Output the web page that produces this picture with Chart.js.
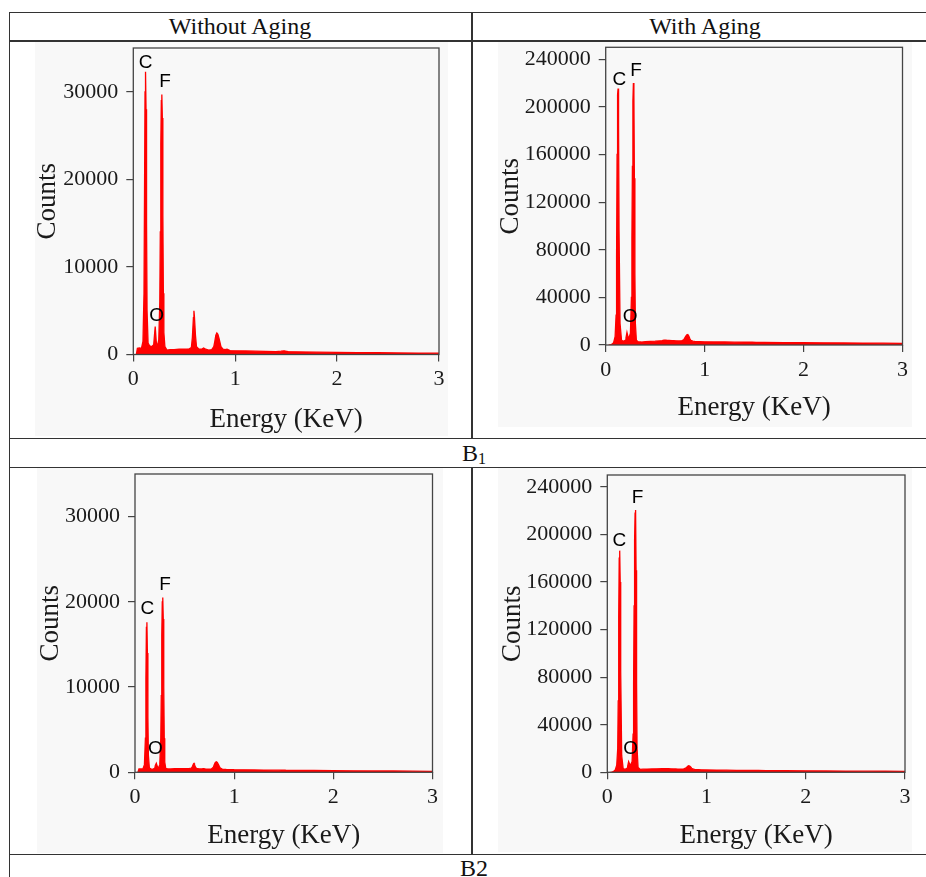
<!DOCTYPE html>
<html><head><meta charset="utf-8">
<script src="https://cdn.jsdelivr.net/npm/chart.js@4.4.1/dist/chart.umd.min.js"></script>
<style>
html,body{margin:0;padding:0;background:#fff;}
body{width:926px;height:877px;position:relative;overflow:hidden;font-family:'Liberation Serif','Times New Roman',serif;color:#111;}
.hl{position:absolute;height:1.5px;background:#333;}
.vl{position:absolute;width:1.5px;background:#333;}
.bg{position:absolute;background:#f8f8f8;}
.txt{position:absolute;font-size:24px;transform:translate(-50%,-50%);white-space:nowrap;line-height:1;}
.txt sub{font-size:16px;vertical-align:-3px;line-height:0;}
canvas{position:absolute;}
</style></head><body>
<div class="bg" style="left:35px;top:42px;width:413px;height:394px"></div>
<div class="bg" style="left:498px;top:42px;width:414px;height:385px"></div>
<div class="bg" style="left:37px;top:468px;width:406px;height:385px"></div>
<div class="bg" style="left:498px;top:468px;width:414px;height:384px"></div>

<div class="hl" style="left:9px;top:11.5px;width:917px"></div>
<div class="hl" style="left:9px;top:40px;width:917px"></div>
<div class="hl" style="left:9px;top:437.5px;width:917px"></div>
<div class="hl" style="left:9px;top:466.5px;width:917px"></div>
<div class="hl" style="left:9px;top:853.5px;width:917px"></div>
<div class="vl" style="left:8.5px;top:11.5px;height:866px"></div>
<div class="vl" style="left:471px;top:11.5px;height:427px"></div>
<div class="vl" style="left:471px;top:466.5px;height:388px"></div>

<div class="txt" style="left:240px;top:26px">Without Aging</div>
<div class="txt" style="left:705px;top:26px">With Aging</div>
<div class="txt" style="left:474px;top:453px">B<sub>1</sub></div>
<div class="txt" style="left:474px;top:868px">B2</div>

<canvas id="c1" width="419" height="416" style="left:32px;top:20px"></canvas>
<canvas id="c2" width="420" height="405" style="left:495px;top:19px"></canvas>
<canvas id="c3" width="410" height="406" style="left:35px;top:446px"></canvas>
<canvas id="c4" width="420" height="405" style="left:497px;top:447px"></canvas>

<script>
const energyKeV = [0.03,0.04,0.06,0.08,0.095,0.105,0.11,0.115,0.12,0.125,0.13,0.135,0.145,0.16,0.18,0.2,0.205,0.215,0.225,0.235,0.25,0.26,0.265,0.27,0.275,0.28,0.285,0.29,0.295,0.3,0.31,0.33,0.36,0.4,0.45,0.5,0.55,0.57,0.58,0.59,0.595,0.6,0.61,0.62,0.64,0.67,0.69,0.71,0.74,0.77,0.79,0.8,0.81,0.82,0.83,0.84,0.85,0.86,0.88,0.9,0.92,0.95,1.0,1.1,1.2,1.3,1.4,1.45,1.48,1.52,1.6,1.8,2.0,2.2,2.4,2.6,2.8,3.0];

const countsB1NoAging = [0,700,750,700,1500,7000,18000,30000,32300,28000,15000,5000,1300,1000,900,1100,1800,3200,1500,800,1700,6000,14000,24000,29000,29700,27000,16000,7000,2500,900,500,550,550,600,600,650,800,2000,4200,5000,4300,2200,900,650,600,750,600,500,550,900,1500,2200,2450,2300,1900,1400,900,600,550,600,450,420,400,380,360,330,380,420,330,300,270,240,220,200,180,160,150];

const countsB1Aging = [0,0,500,2000,7000,25000,75000,160000,210000,215400,185000,95000,18000,4000,3000,4000,6000,10500,7000,6000,10000,40000,90000,150000,205000,220100,210000,140000,60000,18000,4000,2500,2500,2800,3000,3200,3500,3600,3800,4000,4000,4100,4000,3900,3800,3700,3600,3500,3400,3500,4500,6000,7500,8500,8800,7500,5500,4000,3200,3000,2900,2800,2700,2600,2500,2400,2300,2300,2300,2200,2100,2000,1900,1800,1700,1600,1500,1400];

const countsB2NoAging = [0,400,400,400,900,4000,11000,17000,17600,14000,6500,2000,500,400,350,500,800,1050,700,450,900,4000,9000,16000,20000,20500,18000,10000,4000,1200,450,400,400,420,430,440,450,500,700,1000,1050,900,600,450,420,400,420,400,380,400,600,900,1150,1240,1150,950,700,500,380,350,330,320,300,290,280,260,250,250,260,240,230,210,190,170,160,150,130,120];

const countsB2Aging = [0,0,500,2000,6000,20000,60000,130000,180000,186400,160000,85000,14000,3000,2500,3500,5000,8900,7000,6000,9000,32000,75000,140000,195000,218000,220500,170000,75000,20000,4000,2500,2600,2700,2800,2900,3000,3000,3000,3100,3100,3100,3000,3000,2900,2800,2800,2700,2700,2800,3500,4200,5000,5500,5300,4500,3500,2800,2400,2300,2200,2100,2000,1900,1800,1700,1600,1600,1600,1500,1400,1300,1200,1100,1000,950,900,850];

const energyTicks = [0,1,2,3];
const countTicksNoAging = [0,10000,20000,30000];
const countTicksAging = [0,40000,80000,120000,160000,200000,240000];

const peakLabelsB1NoAging = [['C',0.122,33350],['F',0.311,31180],['O',0.23,4400]];
const peakLabelsB1Aging = [['C',0.1375,222950],['F',0.306,230160],['O',0.246,23750]];
const peakLabelsB2NoAging = [['C',0.124,19180],['F',0.303,22020],['O',0.205,2807]];
const peakLabelsB2Aging = [['C',0.121,194810],['F',0.306,230600],['O',0.236,20130]];

const axisColor = '#444';
const textColor = '#1a1a1a';

const boxPlugin = {
  id: 'boxAndLabels',
  afterDatasetsDraw(chart, args, opts) {
    const {ctx, chartArea: a, scales} = chart;
    ctx.save();
    ctx.strokeStyle = axisColor;
    ctx.lineWidth = 1.3;
    ctx.strokeRect(a.left, a.top, a.right - a.left, a.bottom - a.top);
    ctx.fillStyle = '#000';
    ctx.font = '19px "Liberation Sans", Arial, sans-serif';
    ctx.textAlign = 'center';
    ctx.textBaseline = 'middle';
    (opts.labels || []).forEach(([t, x, y]) => {
      ctx.fillText(t, scales.x.getPixelForValue(x), scales.y.getPixelForValue(y));
    });
    ctx.restore();
  }
};

function makeChart(id, counts, yMax, yTicks, labels, g) {
  new Chart(document.getElementById(id), {
    type: 'line',
    data: {
      datasets: [{
        data: energyKeV.map((e, i) => ({x: e, y: counts[i]})),
        borderColor: '#ff0000',
        backgroundColor: '#ff0000',
        borderWidth: 1.3,
        pointRadius: 0,
        fill: 'origin',
        tension: 0
      }]
    },
    options: {
      responsive: false,
      animation: false,
      events: [],
      layout: {padding: {left: 0, top: g.padTop, right: g.padRight, bottom: 0}},
      plugins: {legend: {display: false}, tooltip: {enabled: false}, boxAndLabels: {labels}},
      scales: {
        x: {
          type: 'linear', min: 0, max: 3,
          afterBuildTicks: s => { s.ticks = energyTicks.map(v => ({value: v})); },
          afterFit: s => { s.height = g.xHeight; },
          ticks: {color: textColor, padding: 5, maxRotation: 0, font: {family: '"Liberation Serif", serif', size: 22}, callback: v => String(v)},
          grid: {display: true, drawOnChartArea: false, drawTicks: true, tickLength: 7, color: axisColor, lineWidth: 1.2},
          border: {display: false},
          title: {display: true, text: 'Energy (KeV)', color: textColor, padding: 0, font: {family: '"Liberation Serif", serif', size: 27}}
        },
        y: {
          type: 'linear', min: 0, max: yMax,
          afterBuildTicks: s => { s.ticks = yTicks.map(v => ({value: v})); },
          afterFit: s => { s.width = g.yWidth; },
          ticks: {color: textColor, padding: 8, font: {family: '"Liberation Serif", serif', size: 22}, callback: v => String(v)},
          grid: {display: true, drawOnChartArea: false, drawTicks: true, tickLength: 7, color: axisColor, lineWidth: 1.2},
          border: {display: false},
          title: {display: true, text: 'Counts', color: textColor, padding: 0, font: {family: '"Liberation Serif", serif', size: 27}}
        }
      }
    },
    plugins: [boxPlugin]
  });
}

makeChart('c1', countsB1NoAging, 35000, countTicksNoAging, peakLabelsB1NoAging, {padTop: 28, padRight: 12, yWidth: 101.3, xHeight: 81.5});
makeChart('c2', countsB1Aging, 250000, countTicksAging, peakLabelsB1Aging, {padTop: 28.3, padRight: 12.5, yWidth: 110.7, xHeight: 79});
makeChart('c3', countsB2NoAging, 35000, countTicksNoAging, peakLabelsB2NoAging, {padTop: 28, padRight: 12.5, yWidth: 100, xHeight: 79.7});
makeChart('c4', countsB2Aging, 250000, countTicksAging, peakLabelsB2Aging, {padTop: 28, padRight: 12, yWidth: 110.3, xHeight: 79.7});
</script>
</body></html>
